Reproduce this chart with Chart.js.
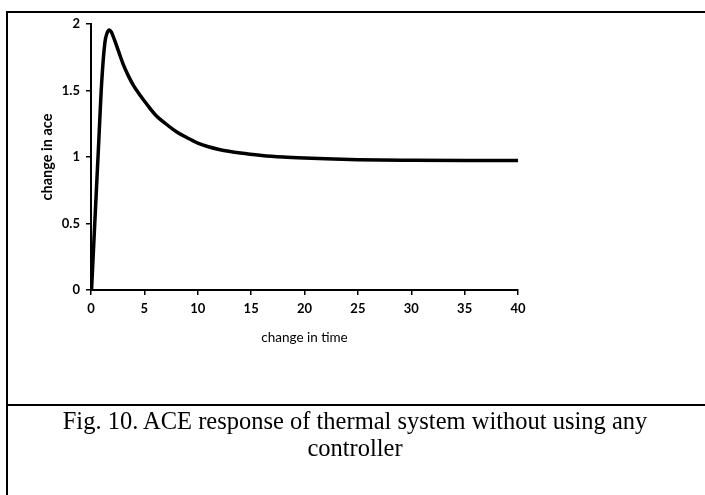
<!DOCTYPE html>
<html>
<head>
<meta charset="utf-8">
<script src="https://cdn.jsdelivr.net/npm/chart.js@4/dist/chart.umd.min.js"></script>
<style>
  body { margin: 0; background: #fff; }
  #page { position: relative; width: 705px; height: 495px; overflow: hidden; background: #fff; }
  #chart-box { position: absolute; left: 0; top: 0; width: 705px; height: 400px; }
  .rule { position: absolute; background: #000; }
  #caption {
    position: absolute; left: 0; width: 710px; top: 407px;
    text-align: center; font-family: "Liberation Serif", serif; font-size: 24.5px; line-height: 27px; color: #000;
  }
</style>
</head>
<body>
<div id="page">
  <div id="chart-box"><canvas id="ace-chart" width="705" height="400"></canvas></div>
  <div class="rule" style="left:6px; top:11px; width:2px; height:484px;"></div>
  <div class="rule" style="left:6px; top:11px; width:699px; height:2px;"></div>
  <div class="rule" style="left:6px; top:404px; width:699px; height:2px;"></div>
  <div id="caption">Fig. 10. ACE response of thermal system without using any<br>controller</div>
</div>
<script>
// time and ACE values
const timeVals = [0.05, 0.4, 0.7, 1.0, 1.3, 1.5, 1.7, 1.9, 2.2, 2.6, 3.0, 3.5, 4.0, 4.6, 5.2, 6, 7, 8, 9, 10, 11, 12, 14, 16, 18, 20, 22, 25, 30, 35, 40];
const aceVals  = [0, 0.58, 1.07, 1.56, 1.86, 1.93, 1.955, 1.94, 1.88, 1.79, 1.70, 1.61, 1.535, 1.465, 1.40, 1.32, 1.25, 1.19, 1.145, 1.105, 1.077, 1.057, 1.03, 1.012, 1.0, 0.992, 0.986, 0.98, 0.976, 0.974, 0.973];
const xTicks = [0, 5, 10, 15, 20, 25, 30, 35, 40];
const yTicks = [0, 0.5, 1, 1.5, 2];

const tickFont = { family: 'Lato', size: 13, weight: 'bold' };

const ctx = document.getElementById('ace-chart').getContext('2d');
new Chart(ctx, {
    type: 'line',
    data: {
        datasets: [{
            data: timeVals.map((t, i) => ({ x: t, y: aceVals[i] })),
            borderColor: '#000',
            borderWidth: 3.5,
            pointRadius: 0,
            cubicInterpolationMode: 'monotone',
            fill: false
        }]
    },
    options: {
        responsive: false,
        animation: false,
        layout: { padding: { top: 24, right: 187, left: 0, bottom: 0 } },
        plugins: { legend: { display: false }, tooltip: { enabled: false } },
        scales: {
            x: {
                type: 'linear', min: 0, max: 40,
                afterBuildTicks: s => { s.ticks = xTicks.map(v => ({ value: v })); },
                afterFit: s => { s.height = 110; },
                grid: { drawOnChartArea: false, tickLength: 5, color: '#000', lineWidth: 1.5 },
                border: { color: '#000', width: 2 },
                ticks: { color: '#000', font: tickFont, padding: 6, maxRotation: 0, callback: v => String(v) },
                title: {
                    display: true, text: 'change in time', color: '#000',
                    font: { family: 'Lato', size: 13.5, weight: 'normal' },
                    padding: { top: 0, bottom: 54 }
                }
            },
            y: {
                type: 'linear', min: 0, max: 2,
                afterBuildTicks: s => { s.ticks = yTicks.map(v => ({ value: v })); },
                afterFit: s => { s.width = 91; },
                grid: { drawOnChartArea: false, tickLength: 5, color: '#000', lineWidth: 1.5 },
                border: { color: '#000', width: 2 },
                ticks: { color: '#000', font: tickFont, padding: 6, callback: v => String(v) },
                title: {
                    display: true, text: 'change in ace', color: '#000',
                    font: { family: 'Lato', size: 14.5, weight: 'bold' },
                    padding: { top: 39, bottom: 0 }
                }
            }
        }
    }
});
</script>
</body>
</html>
